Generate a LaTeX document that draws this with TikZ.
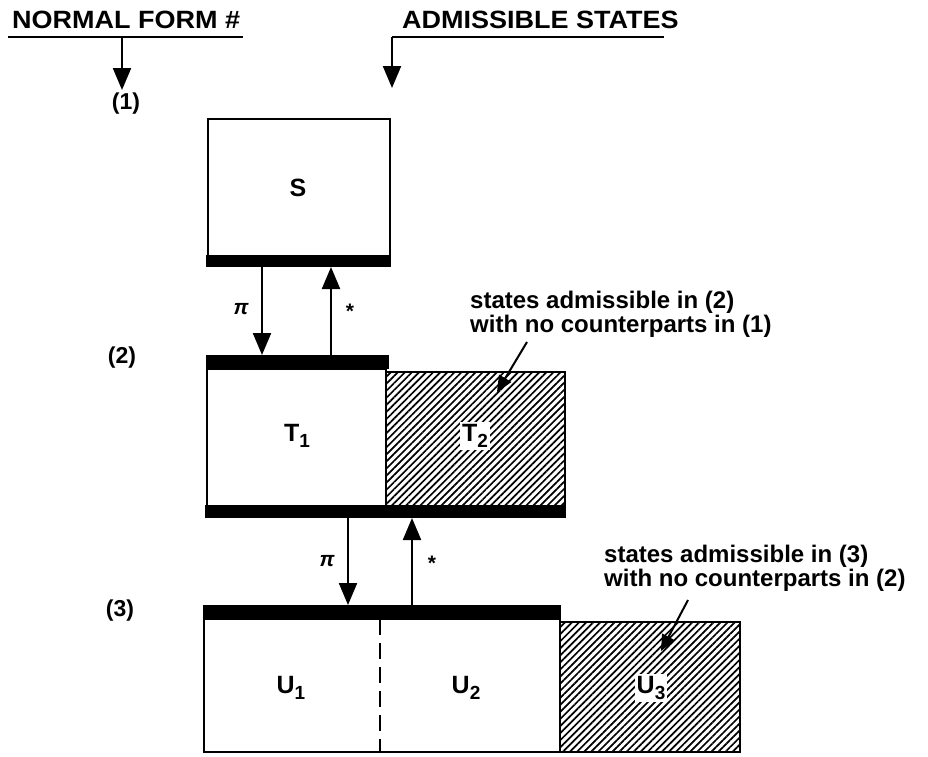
\documentclass[tikz,border=0pt]{standalone}
\usepackage{fontspec}
\setmainfont{Liberation Sans}
\newfontfamily\headface[FakeStretch=1.08]{Liberation Sans}
\usetikzlibrary{arrows.meta, patterns.meta, positioning}

\newcommand{\lowsub}[1]{\raisebox{-0.5ex}{\fontsize{19}{19}\selectfont #1}}

\tikzset{
  hdr/.style={font=\headface\bfseries\fontsize{25}{28}\selectfont, inner sep=0pt},
  lvl/.style={font=\bfseries\fontsize{23}{26}\selectfont},
  st/.style={font=\bfseries\fontsize{25}{28}\selectfont},
  note/.style={font=\bfseries\fontsize{24}{24}\selectfont, align=left, inner sep=0pt},
  lab/.style={font=\bfseries\fontsize{21}{22}\selectfont},
  cell/.style={draw, line width=2.5pt},
  hatch/.style={draw, line width=2.5pt, pattern={Lines[angle=45, distance=5pt, line width=1.7pt]}},
  flow/.style={line width=2.2pt, -{Triangle[length=22pt, width=18pt]}},
  lead/.style={line width=2pt, -{Triangle[length=16pt, width=14pt]}},
}

\begin{document}
\begin{tikzpicture}[x=1pt, y=-1pt]
\useasboundingbox (0,0) rectangle (928,756);

% headings
\node[hdr, anchor=base west] (nf) at (12,28) {NORMAL FORM \#};
\node[hdr, anchor=base west] (adm) at (402,28) {ADMISSIBLE STATES};
\coordinate (nfl) at (8,37);
\coordinate (nfr) at (243,37);
\coordinate (nfdrop) at (122,37);
\coordinate (nftip) at (122,90);
\coordinate (adml) at (392,37);
\coordinate (admr) at (664,37);
\coordinate (admtip) at (392,88);
\draw[line width=1.6pt] (nfl) -- (nfr);
\draw[line width=1.6pt] (adml) -- (admr);
\draw[flow] (nfdrop) -- (nftip);
\draw[flow] (adml) -- (admtip);

\node[lvl] (n1) at (126,104) {(1)};
\node[lvl] (n2) at (122,358) {(2)};
\node[lvl] (n3) at (120,611) {(3)};

% level 1
\draw[cell] (208,119) rectangle (390,258);
\fill (206,255) rectangle (391,267);
\node[st] (s) at (298,188) {S};

% level 2
\fill (206,355) rectangle (389,369);
\draw[cell] (207,369) rectangle (386,506);
\draw[hatch] (386,372) rectangle (565,506);
\fill (205,505) rectangle (566,518);
\node[st] (t1) at (297,436) {T\lowsub{1}};
\node[st, fill=white, inner sep=2pt] (t2) at (475,436) {T\lowsub{2}};

% level 3
\fill (203,605) rectangle (561,619);
\draw[cell] (204,619) rectangle (560,752);
\draw[line width=2pt, dash pattern=on 16pt off 8pt] (380,619) -- (380,752);
\draw[hatch] (560,622) rectangle (740,752);
\node[st] (u1) at (291,688) {U\lowsub{1}};
\node[st] (u2) at (466,688) {U\lowsub{2}};
\node[st, fill=white, inner sep=2pt] (u3) at (651,688) {U\lowsub{3}};

% maps between levels
\coordinate (sa) at (262,267);
\coordinate (ta) at (262,355);
\coordinate (sb) at (331,267);
\coordinate (tb) at (331,355);
\draw[flow] (sa) -- (ta);
\draw[flow] (tb) -- (sb);
\node[lab] (pa) at (241,309) {\itshape π};
\node[lab] (ra) at (350,311) {*};

\coordinate (tc) at (348,518);
\coordinate (uc) at (348,605);
\coordinate (td) at (412,518);
\coordinate (ud) at (412,605);
\draw[flow] (tc) -- (uc);
\draw[flow] (ud) -- (td);
\node[lab] (pb) at (327,561) {\itshape π};
\node[lab] (rb) at (432,563) {*};

% notes
\node[note, anchor=base west] (note2) at (470,332) {states admissible in (2)\\with no counterparts in (1)};
\coordinate (lead2) at (527,342);
\coordinate (tip2) at (497,392);
\draw[lead] (lead2) -- (tip2);

\node[note, anchor=base west] (note3) at (604,586) {states admissible in (3)\\with no counterparts in (2)};
\coordinate (lead3) at (688,600);
\coordinate (tip3) at (661,651);
\draw[lead] (lead3) -- (tip3);
\end{tikzpicture}
\end{document}
